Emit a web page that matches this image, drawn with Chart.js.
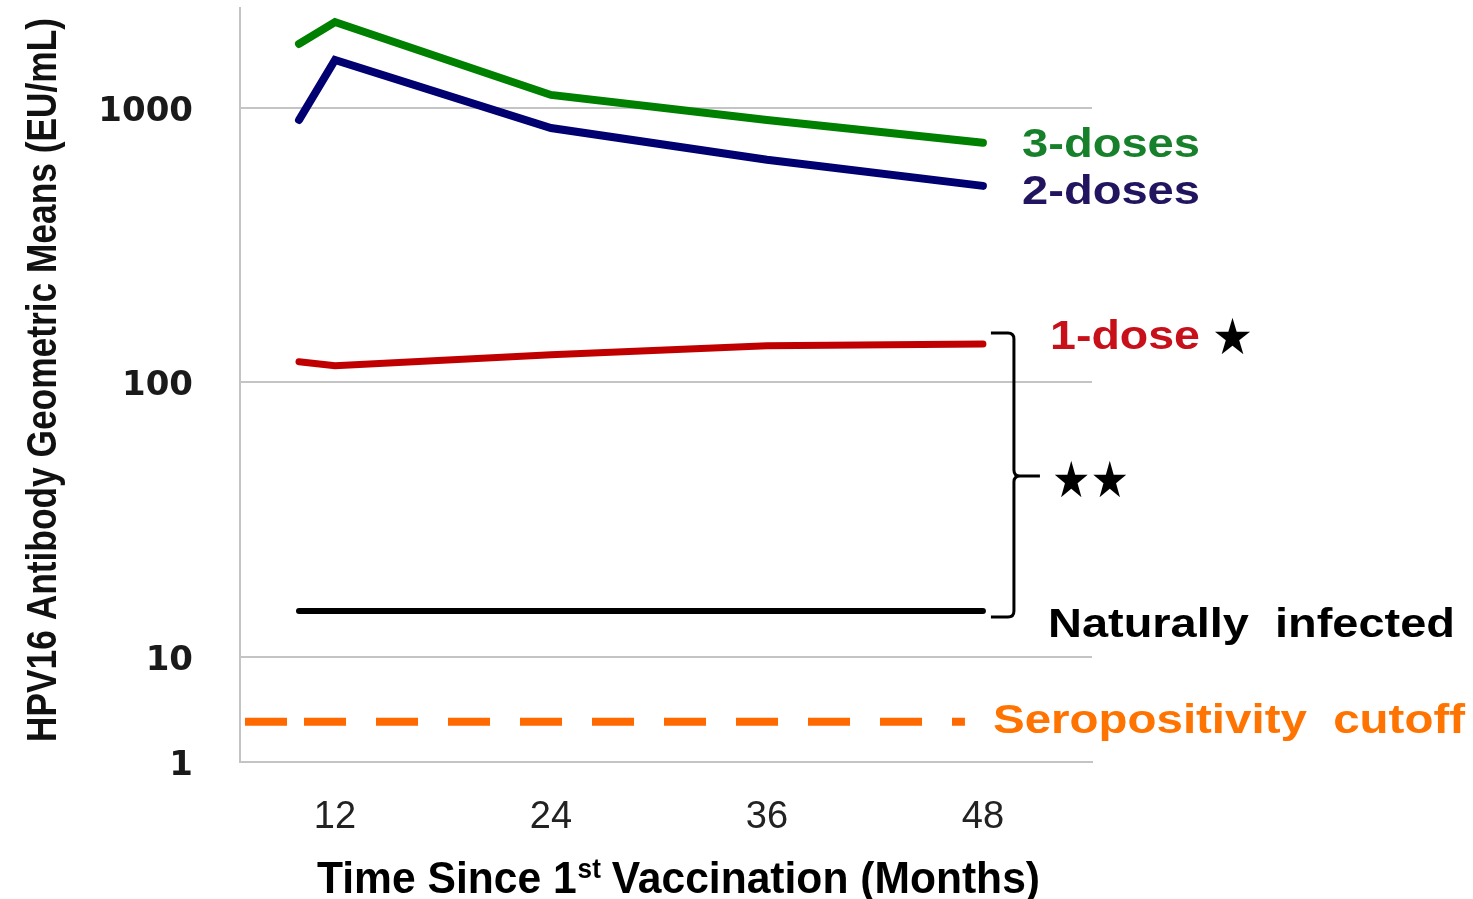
<!DOCTYPE html>
<html>
<head>
<meta charset="utf-8">
<script src="https://cdn.jsdelivr.net/npm/chart.js@4"></script>
<style>
  html, body { margin: 0; padding: 0; background: #fff; }
  #wrap { width: 1473px; height: 899px; }
</style>
</head>
<body>
<div id="wrap"><canvas id="hpvChart" width="1473" height="899"></canvas></div>
<script>
// months since first vaccination where each line has a point
const months = [10, 12, 24, 36, 48];
const threeDoses = [1710, 2055, 1115, 904, 746];
const twoDoses = [904, 1496, 845, 647, 520];
const oneDose = [119, 115, 126, 136, 138];
const naturallyInfected = [14.7, 14.7, 14.7, 14.7, 14.7];
// seropositivity cutoff sits in the compressed part of the axis
const cutoffMonths = [7, 47];
const cutoffValue = [5.8, 5.8];

const xTicks = [12, 24, 36, 48];
const yTicks = [4.14, 10, 100, 1000];
const yTickLabels = ['1', '10', '100', '1000'];

const toPoints = (xs, ys) => xs.map((x, i) => ({ x: x, y: ys[i] }));

// draw text squeezed/stretched to a given width
function fitText(ctx, text, left, baseline, width, font, color) {
    ctx.save();
    ctx.font = font;
    ctx.fillStyle = color;
    ctx.textBaseline = 'alphabetic';
    ctx.textAlign = 'left';
    const w = ctx.measureText(text).width;
    ctx.translate(left, baseline);
    ctx.scale(width / w, 1);
    ctx.fillText(text, 0, 0);
    ctx.restore();
}

const annotations = {
    id: 'annotations',
    afterDraw(chart) {
        const ctx = chart.ctx;
        const x = chart.scales.x, y = chart.scales.y;
        const bold = 'bold 40px "Liberation Sans"';

        // series labels
        fitText(ctx, '3-doses', 1022, 157, 178, bold, '#17802b');
        fitText(ctx, '2-doses', 1022, 204, 178, bold, '#22145f');
        fitText(ctx, '1-dose', 1050, 349, 150, bold, '#c8101a');
        fitText(ctx, '★', 1212, 354, 41, 'bold 50px "DejaVu Sans"', '#000');
        fitText(ctx, '★★', 1052, 497, 77, 'bold 50px "DejaVu Sans"', '#000');
        fitText(ctx, 'Naturally  infected', 1048, 637, 407, bold, '#000');
        fitText(ctx, 'Seropositivity  cutoff', 993, 733, 472, bold, '#ff7300');

        // bracket between 1-dose and naturally infected
        const top = y.getPixelForValue(oneDose[oneDose.length - 1]) - 11;
        const bot = y.getPixelForValue(naturallyInfected[0]) + 6;
        const mid = 476;
        const bx = x.getPixelForValue(48) + 31;
        ctx.save();
        ctx.strokeStyle = '#000';
        ctx.lineWidth = 3;
        ctx.beginPath();
        ctx.moveTo(bx - 23, top);
        ctx.lineTo(bx - 6, top);
        ctx.quadraticCurveTo(bx, top, bx, top + 6);
        ctx.lineTo(bx, mid - 6);
        ctx.quadraticCurveTo(bx, mid, bx + 6, mid);
        ctx.lineTo(bx + 26, mid);
        ctx.moveTo(bx + 6, mid);
        ctx.quadraticCurveTo(bx, mid, bx, mid + 6);
        ctx.lineTo(bx, bot - 6);
        ctx.quadraticCurveTo(bx, bot, bx - 6, bot);
        ctx.lineTo(bx - 23, bot);
        ctx.stroke();
        ctx.restore();

        // y axis title (rotated)
        ctx.save();
        ctx.translate(56, 742);
        ctx.rotate(-Math.PI / 2);
        fitText(ctx, 'HPV16 Antibody Geometric Means (EU/mL)', 0, 0, 724, 'bold 42px "Liberation Sans"', '#111');
        ctx.restore();

        // x axis title with superscript
        ctx.save();
        const tf = 'bold 44px "Liberation Sans"';
        const sf = 'bold 27px "Liberation Sans"';
        ctx.font = tf;
        const a = 'Time Since 1', c = ' Vaccination (Months)';
        const wa = ctx.measureText(a).width, wc = ctx.measureText(c).width;
        ctx.font = sf;
        const wb = ctx.measureText('st').width;
        const k = 723 / (wa + wb + wc);
        ctx.translate(317, 893);
        ctx.scale(k, 1);
        ctx.fillStyle = '#000';
        ctx.font = tf;
        ctx.fillText(a, 0, 0);
        ctx.font = sf;
        ctx.fillText('st', wa + 1, -15);
        ctx.font = tf;
        ctx.fillText(c, wa + wb, 0);
        ctx.restore();
    }
};

const lineStyle = (color, width) => ({
    borderColor: color,
    backgroundColor: color,
    borderWidth: width,
    pointRadius: 0,
    tension: 0,
    fill: false,
    borderCapStyle: 'round'
});

new Chart(document.getElementById('hpvChart'), {
    type: 'line',
    data: {
        datasets: [
            { label: '3-doses', data: toPoints(months, threeDoses), ...lineStyle('#008000', 8) },
            { label: '2-doses', data: toPoints(months, twoDoses), ...lineStyle('#000070', 8) },
            { label: '1-dose', data: toPoints(months, oneDose), ...lineStyle('#c00000', 7) },
            { label: 'Naturally infected', data: toPoints(months, naturallyInfected), ...lineStyle('#000000', 6) },
            {
                label: 'Seropositivity cutoff',
                data: toPoints(cutoffMonths, cutoffValue),
                ...lineStyle('#ff6a00', 8),
                borderCapStyle: 'butt',
                borderDash: [42, 17, 42, 30, 42, 30, 42, 30, 42, 30, 42, 30, 42, 30, 42, 30, 42, 30, 42, 30]
            }
        ]
    },
    options: {
        responsive: false,
        animation: false,
        devicePixelRatio: 1,
        layout: { padding: { left: 0, right: 381, top: 8, bottom: 0 } },
        plugins: { legend: { display: false }, tooltip: { enabled: false } },
        scales: {
            x: {
                type: 'linear',
                min: 6.722,
                max: 54.06,
                afterBuildTicks: s => { s.ticks = xTicks.map(v => ({ value: v })); },
                afterFit: s => { s.height = 137; s.paddingLeft = 0; s.paddingRight = 0; },
                grid: { display: false, drawTicks: false },
                border: { display: true, color: '#c4c4c4', width: 2 },
                ticks: {
                    padding: 33,
                    color: '#222',
                    font: { family: '"Liberation Sans"', size: 38 },
                    maxRotation: 0
                }
            },
            y: {
                type: 'logarithmic',
                min: 4.14,
                max: 2312,
                afterBuildTicks: s => { s.ticks = yTicks.map(v => ({ value: v })); },
                afterFit: s => { s.width = 240; s.paddingTop = 0; s.paddingBottom = 0; },
                grid: { color: '#c4c4c4', lineWidth: 2, drawTicks: false },
                border: { display: true, color: '#c4c4c4', width: 2 },
                ticks: {
                    padding: 47,
                    labelOffset: 4,
                    color: '#1a1a1a',
                    font: { family: '"DejaVu Sans"', size: 34, weight: 'bold' },
                    callback: (v, i) => yTickLabels[i]
                }
            }
        }
    },
    plugins: [annotations]
});
</script>
</body>
</html>
